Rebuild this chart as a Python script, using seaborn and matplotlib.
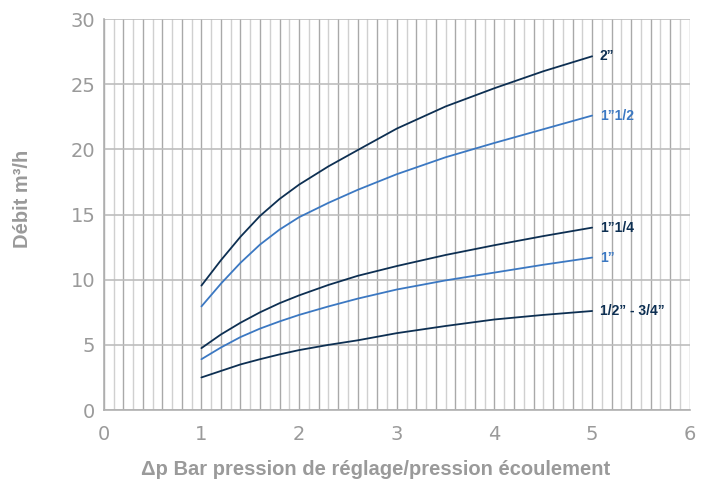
import numpy as np
import pandas as pd
import seaborn as sns
import matplotlib.pyplot as plt

sns.set_theme(style="white")
plt.rcParams['font.family'] = ['Liberation Sans', 'DejaVu Sans']

# pression differentielle (bar) et debit (m3/h)
dp = [1, 1.2, 1.4, 1.6, 1.8, 2.0, 2.3, 2.6, 3.0, 3.5, 4.0, 4.5, 5.0]
q_2 = [9.55, 11.5, 13.3, 14.9, 16.2, 17.3, 18.7, 19.95, 21.6, 23.3, 24.7, 26.0, 27.15]
q_1_12 = [7.95, 9.7, 11.3, 12.7, 13.85, 14.8, 15.9, 16.9, 18.1, 19.4, 20.5, 21.55, 22.6]
q_1_14 = [4.75, 5.8, 6.7, 7.5, 8.2, 8.8, 9.6, 10.3, 11.05, 11.9, 12.65, 13.35, 14.0]
q_1 = [3.9, 4.8, 5.6, 6.25, 6.8, 7.3, 7.95, 8.55, 9.25, 9.95, 10.55, 11.15, 11.7]
q_12_34 = [2.5, 3.0, 3.5, 3.9, 4.27, 4.6, 5.0, 5.35, 5.9, 6.45, 6.95, 7.3, 7.6]

series = ["2”", "1”1/2", "1”1/4", "1”", "1/2” - 3/4”"]
values = [q_2, q_1_12, q_1_14, q_1, q_12_34]
dark = "#0d2f52"
blue = "#3b78c2"
colors = [dark, blue, dark, blue, dark]

fig = plt.figure(figsize=(7.01, 4.79), dpi=100)
ax = fig.add_axes([0.148, 0.144, 0.836, 0.816])

for name, vals, col in zip(series, values, colors):
    df = pd.DataFrame({"dp": dp, "q": vals})
    sns.lineplot(data=df, x="dp", y="q", ax=ax, color=col, linewidth=1.3)
    ax.text(dp[-1] + 0.08, vals[-1], name, color=col, fontsize=10,
            fontweight="bold", va="center", ha="left")

ax.set_xlim(0, 6)
ax.set_ylim(0, 30)
ax.set_xticks(range(0, 7))
ax.set_yticks(range(0, 31, 5))
# grille verticale tous les 0.1, alternance foncé / clair
for i in range(61):
    ax.axvline(i / 10, color="#a9a9a9" if i % 2 == 0 else "#d0d0d0",
               linewidth=1, zorder=0)
ax.grid(True, which="major", axis="y", color="#bdbdbd", linewidth=1.2)
ax.set_axisbelow(True)
for s in ["top", "right"]:
    ax.spines[s].set_visible(False)
for s in ["left", "bottom"]:
    ax.spines[s].set_color("#b0b0b0")
    ax.spines[s].set_linewidth(1.2)

ax.tick_params(axis="both", which="both", length=0, labelsize=14,
               labelcolor="#9a9a9a")
ax.tick_params(axis="x", pad=11)
ax.tick_params(axis="y", pad=6)
for lab in ax.get_xticklabels() + ax.get_yticklabels():
    lab.set_family(["DejaVu Sans"])
ax.set_xlabel("Δp Bar pression de réglage/pression écoulement", fontsize=14.5,
              fontweight="bold", color="#9a9a9a")
ax.set_ylabel("Débit m³/h", fontsize=14.5, fontweight="bold", color="#9a9a9a")
ax.xaxis.set_label_coords(0.464, -0.128)
ax.yaxis.set_label_coords(-0.123, 0.54)

fig.savefig("out.png", dpi=100)
